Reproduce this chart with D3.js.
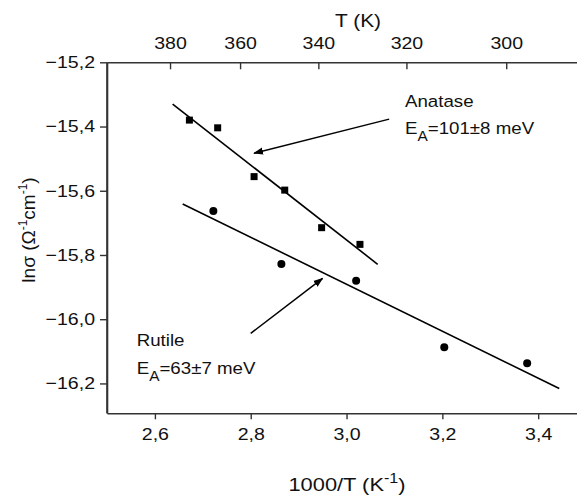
<!DOCTYPE html>
<html><head><meta charset="utf-8">
<script src="https://cdn.jsdelivr.net/npm/d3@7"></script>
<style>
body{margin:0;background:#fff}
svg text{font-family:"Liberation Sans",Arial,sans-serif;fill:#111}
</style></head>
<body><svg id="c" width="577" height="497"></svg>
<script>
// ---- data ----
const anataseX = [2.672, 2.731, 2.807, 2.871, 2.948, 3.028];
const anataseY = [-15.380, -15.404, -15.556, -15.598, -15.715, -15.767];
const rutileX = [2.722, 2.864, 3.020, 3.204, 3.377];
const rutileY = [-15.663, -15.828, -15.880, -16.087, -16.137];
const anataseFitX = [2.637, 3.065];
const anataseFitY = [-15.330, -15.829];
const rutileFitX = [2.658, 3.444];
const rutileFitY = [-15.641, -16.216];
const xTicks = [2.6, 2.8, 3.0, 3.2, 3.4];
const yTicks = [-15.2, -15.4, -15.6, -15.8, -16.0, -16.2];
const tTicks = [380, 360, 340, 320, 300];
const anataseArrow = [[3.089, -15.377], [2.807, -15.483]];
const rutileArrow = [[2.800, -16.044], [2.950, -15.873]];
const anataseLabel = ["Anatase", "101±8 meV"];
const rutileLabel = ["Rutile", "63±7 meV"];

// ---- scales ----
const svg = d3.select("#c");
const x = d3.scaleLinear().domain([2.5, 3.48]).range([107, 576.5]);
const y = d3.scaleLinear().domain([-16.293, -15.2]).range([413.3, 62.3]);
const comma = v => d3.format(".1f")(v).replace(".", ",");
const axisColor = "#333";
function stretch(sel, s) {
  sel.each(function () {
    const t = d3.select(this);
    const xx = +t.attr("x") || 0, yy = +t.attr("y") || 0;
    t.attr("x", 0).attr("y", 0).attr("transform", `translate(${xx},${yy}) scale(${s},1)`);
  });
}

// axes
const gB = svg.append("g").attr("transform", `translate(0,${y(-16.293)})`)
  .call(d3.axisBottom(x).tickValues(xTicks).tickFormat(comma).tickSizeInner(6).tickSizeOuter(0).tickPadding(9));
const gL = svg.append("g").attr("transform", `translate(${x(2.5)},0)`)
  .call(d3.axisLeft(y).tickValues(yTicks).tickFormat(comma).tickSizeInner(7).tickSizeOuter(0).tickPadding(5));
const gT = svg.append("g").attr("transform", `translate(0,${y(-15.2)})`)
  .call(d3.axisTop(x).tickValues(tTicks.map(t => 1000 / t)).tickFormat(v => Math.round(1000 / v)).tickSizeInner(-7).tickSizeOuter(0).tickPadding(13));
[gB, gL, gT].forEach(g => {
  g.selectAll("path.domain").attr("stroke", axisColor).attr("stroke-width", 1.6);
  g.selectAll(".tick line").attr("stroke", axisColor).attr("stroke-width", 1.4);
  const tx = g.selectAll(".tick text").attr("font-size", 17).attr("fill", "#111")
   .style("font-family", '"Liberation Sans",Arial,sans-serif');
  stretch(tx, 1.15);
});
svg.append("line").attr("x1", x(2.5)).attr("x2", x(2.5)).attr("y1", y(-15.2)).attr("y2", y(-16.293))
  .attr("stroke", axisColor).attr("stroke-width", 1.6);

// axis titles
stretch(svg.append("text").attr("x", 347).attr("y", 491).attr("text-anchor", "middle").attr("font-size", 19)
  .html('1000/T (K<tspan dy="-8" font-size="14">-1</tspan><tspan dy="8">)</tspan>'), 1.15);
stretch(svg.append("text").attr("x", 358).attr("y", 27).attr("text-anchor", "middle").attr("font-size", 19).text("T (K)"), 1.1);
svg.append("text").attr("transform", "translate(35,230) rotate(-90)").attr("text-anchor", "middle").attr("font-size", 19)
  .html('lnσ (Ω<tspan dy="-8" font-size="12">-1</tspan><tspan dy="8">cm</tspan><tspan dy="-8" font-size="12">-1</tspan><tspan dy="8">)</tspan>');

// fit lines
svg.append("line").attr("x1", x(anataseFitX[0])).attr("y1", y(anataseFitY[0]))
  .attr("x2", x(anataseFitX[1])).attr("y2", y(anataseFitY[1])).attr("stroke", "#000").attr("stroke-width", 1.6);
svg.append("line").attr("x1", x(rutileFitX[0])).attr("y1", y(rutileFitY[0]))
  .attr("x2", x(rutileFitX[1])).attr("y2", y(rutileFitY[1])).attr("stroke", "#000").attr("stroke-width", 1.6);

// markers
const sq = 7;
svg.selectAll("rect.an").data(anataseX).enter().append("rect")
  .attr("x", (d, i) => x(d) - sq / 2).attr("y", (d, i) => y(anataseY[i]) - sq / 2)
  .attr("width", sq).attr("height", sq).attr("fill", "#000");
svg.selectAll("circle.ru").data(rutileX).enter().append("circle")
  .attr("cx", d => x(d)).attr("cy", (d, i) => y(rutileY[i])).attr("r", 4).attr("fill", "#000");

// arrows
svg.append("defs").append("marker").attr("id", "ah").attr("viewBox", "0 0 10 10")
  .attr("refX", 9).attr("refY", 5).attr("markerWidth", 10).attr("markerHeight", 10)
  .attr("markerUnits", "userSpaceOnUse").attr("orient", "auto")
  .append("path").attr("d", "M0,1.5 L10,5 L0,8.5 Z").attr("fill", "#000");
[anataseArrow, rutileArrow].forEach(a => {
  svg.append("line").attr("x1", x(a[0][0])).attr("y1", y(a[0][1]))
    .attr("x2", x(a[1][0])).attr("y2", y(a[1][1])).attr("stroke", "#000").attr("stroke-width", 1.5)
    .attr("marker-end", "url(#ah)");
});

// annotation labels
function label(lbl, xv, y1, y2) {
  stretch(svg.append("text").attr("x", x(xv)).attr("y", y(y1)).attr("font-size", 17).text(lbl[0]), 1.1);
  stretch(svg.append("text").attr("x", x(xv)).attr("y", y(y2)).attr("font-size", 17)
    .html(`E<tspan dy="7" font-size="14">A</tspan><tspan dy="-7">=${lbl[1]}</tspan>`), 1.1);
}
label(anataseLabel, 3.122, -15.340, -15.423);
label(rutileLabel, 2.562, -16.083, -16.171);
</script></body></html>
